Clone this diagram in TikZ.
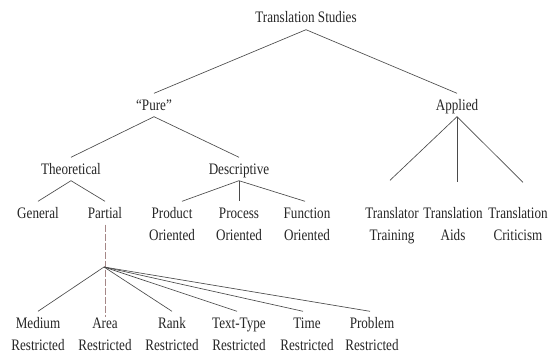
\documentclass[tikz,border=0pt]{standalone}
\usepackage{fontspec}
\setmainfont[FakeStretch=0.82]{Liberation Serif}
\definecolor{txt}{HTML}{262626}
\definecolor{edge}{HTML}{4A4A4A}
\definecolor{dashc}{RGB}{165,135,135}
\tikzset{
  lbl/.style={inner sep=0pt, align=center, anchor=base, text=txt,
    font=\fontsize{16}{22.5}\selectfont, text height=16.5pt, text depth=6.5pt},
  lbltwo/.style={lbl, text height=39pt, yshift=-22.5pt},
  edgeline/.style={draw=edge, line width=0.65pt},
  dashline/.style={draw=dashc, line width=0.6pt, dash pattern=on 7pt off 2pt}
}
\begin{document}
\begin{tikzpicture}[x=1pt,y=-1pt]
\useasboundingbox[fill=white] (0,0) rectangle (555,356);
% level 0
\node[lbl] (ts) at (306,23) {Translation Studies};
% level 1
\node[lbl] (pure) at (154,110) {``Pure''};
\node[lbl] (applied) at (457,110) {Applied};
% level 2
\node[lbl] (theo) at (71,174) {Theoretical};
\node[lbl] (desc) at (239,174) {Descriptive};
% level 3
\node[lbl] (gen) at (38,218) {General};
\node[lbl] (part) at (105,218) {Partial};
\node[lbltwo] (prod) at (172,218) {Product\\Oriented};
\node[lbltwo] (proc) at (239,218) {Process\\Oriented};
\node[lbltwo] (func) at (307,218) {Function\\Oriented};
\node[lbltwo] (train) at (392,218) {Translator\\Training};
\node[lbltwo] (aids) at (453,218) {Translation\\Aids};
\node[lbltwo] (crit) at (518,218) {Translation\\Criticism};
% level 4
\node[lbltwo] (med) at (38,328) {Medium\\Restricted};
\node[lbltwo] (area) at (105,328) {Area\\Restricted};
\node[lbltwo] (rank) at (172,328) {Rank\\Restricted};
\node[lbltwo] (ttype) at (239,328) {Text-Type\\Restricted};
\node[lbltwo] (time) at (307,328) {Time\\Restricted};
\node[lbltwo] (prob) at (372,328) {Problem\\Restricted};
\coordinate (fan) at (104,267);
% connectors
\draw[edgeline] (ts.south) -- (pure.north);
\draw[edgeline] (ts.south) -- (applied.north);
\draw[edgeline] (pure.south) -- (theo.north);
\draw[edgeline] (pure.south) -- (desc.north);
\draw[edgeline] (theo.south) -- (gen.north);
\draw[edgeline] (theo.south) -- (part.north);
\draw[edgeline] (desc.south) -- ([xshift=10pt]prod.north);
\draw[edgeline] (desc.south) -- (proc.north);
\draw[edgeline] (desc.south) -- ([xshift=-2pt]func.north);
\draw[edgeline] (applied.south) -- ([xshift=-2pt,yshift=21pt]train.north);
\draw[edgeline] (applied.south) -- ([xshift=4pt,yshift=19pt]aids.north);
\draw[edgeline] (applied.south) -- ([xshift=5pt,yshift=19pt]crit.north);
\draw[dashline, shorten >=-6pt] (part.south) -- (area.north);
\draw[edgeline] (fan) -- (med.north);
\draw[edgeline] (fan) -- (rank.north);
\draw[edgeline] (fan) -- ([xshift=-2pt]ttype.north);
\draw[edgeline] (fan) -- ([xshift=-4pt]time.north);
\draw[edgeline] (fan) -- ([xshift=-2pt]prob.north);
\end{tikzpicture}
\end{document}
